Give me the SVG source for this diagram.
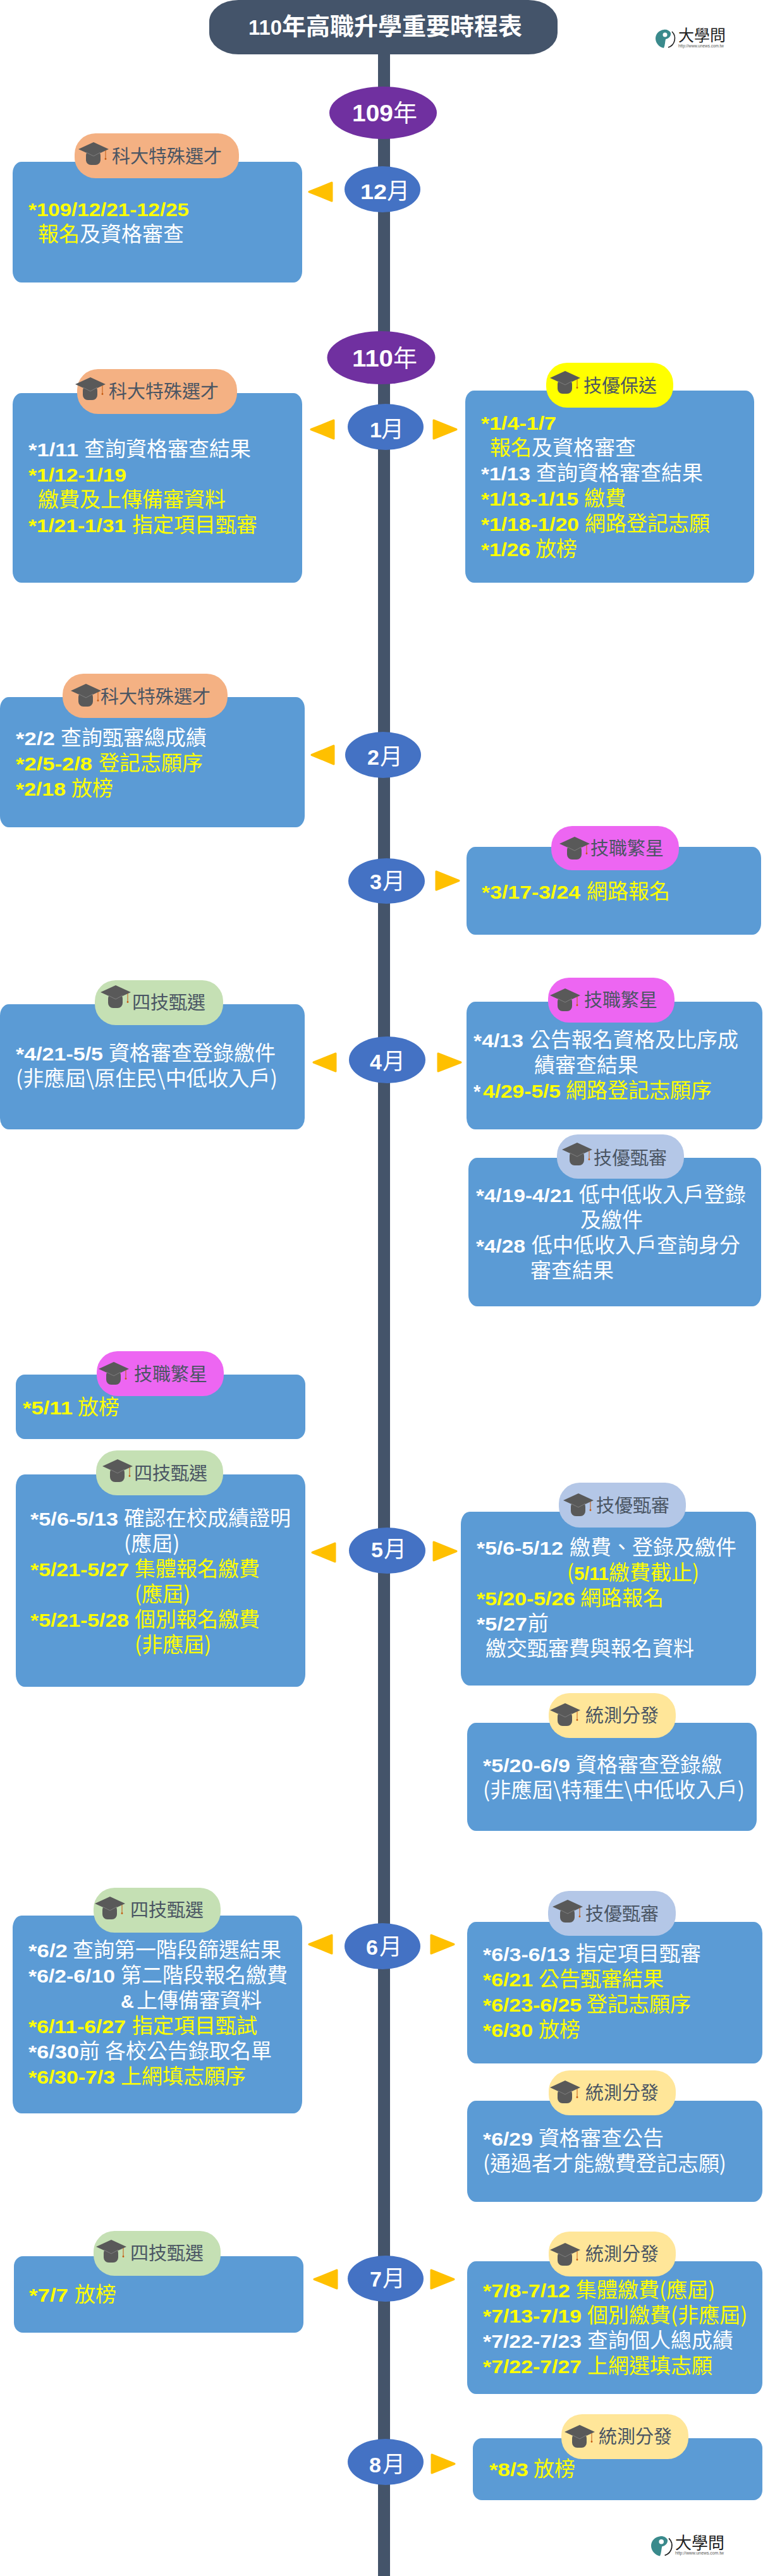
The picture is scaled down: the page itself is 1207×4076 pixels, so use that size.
<svg xmlns="http://www.w3.org/2000/svg" xmlns:xlink="http://www.w3.org/1999/xlink" width="1207" height="4076" viewBox="0 0 1207 4076">
<style>
text{font-family:"Noto Sans CJK TC","Noto Sans CJK SC",sans-serif}
.box{fill:#5B9BD5}
.tri{fill:#FFC000;stroke:#FFC000;stroke-width:3;stroke-linejoin:round}
.yr{fill:#7030A0}.mo{fill:#4472C4}
.p1{fill:#F4B183}.p2{fill:#FFFF00}.p3{fill:#ED66F2}.p4{fill:#C5E0B4}.p5{fill:#B4C7E7}.p6{fill:#FFE699}
.lab{font-size:29px;fill:#4A5563}
.t{font-size:33px;fill:#fff}
.y{fill:#FFFF00}.w{fill:#fff}
.d{font-family:"Liberation Sans",Arial,sans-serif;font-weight:700;font-size:29px}
.mt{font-size:36px;fill:#fff}
.md{font-family:"Liberation Sans",Arial,sans-serif;font-weight:700;font-size:34px}
.yt{font-size:38px;fill:#fff}
.yd{font-family:"Liberation Sans",Arial,sans-serif;font-weight:700;font-size:37px}
.lg{font-size:25px;fill:#222}
.url{font-family:"Liberation Sans",Arial,sans-serif;font-size:6.5px;fill:#555}
</style>
<defs>
<g id="cap">
<rect x="12" y="13" width="23" height="23" rx="8" fill="#595959"/>
<polygon points="24,0 48,11 24,22 0,11" fill="#595959"/>
<polyline points="12,16 24,22 35,16" fill="none" stroke="#7F7F7F" stroke-width="1"/>
<line x1="43" y1="13" x2="43" y2="26" stroke="#C55A11" stroke-width="1"/>
<circle cx="43" cy="26.5" r="1.4" fill="#C55A11"/>
</g>
<g id="mark">
<path d="M13,2C5,3 0,9 0,16C0,23 6,30 13,31C15,27 15,21 16,17C21,16 25,12 24,7C22,3 17,1 13,2Z" fill="#3A8A8C"/>
<circle cx="15" cy="10" r="3.5" fill="#fff"/>
<path d="M26,5A15,15 0 0 1 20,30" fill="none" stroke="#222" stroke-width="1.6"/>
</g>
</defs>
<rect width="1207" height="4076" fill="#fff"/>

<g id="connectors">
<rect x="598" y="80" width="19" height="3996" fill="#44546A"/>
<polygon class="tri" points="489,303.500 525,289 525,318"/>
<polygon class="tri" points="492,679.500 528,665 528,694"/>
<polygon class="tri" points="722,679.500 686,665 686,694"/>
<polygon class="tri" points="493,1194.500 528,1180 528,1209"/>
<polygon class="tri" points="726,1393.500 690,1379 690,1408"/>
<polygon class="tri" points="496,1681 531,1667 531,1695"/>
<polygon class="tri" points="729,1681 693,1667 693,1695"/>
<polygon class="tri" points="494,2456.500 530,2442 530,2471"/>
<polygon class="tri" points="722,2454.500 686,2440 686,2469"/>
<polygon class="tri" points="489,3076.500 525,3062 525,3091"/>
<polygon class="tri" points="718,3076.500 682,3062 682,3091"/>
<polygon class="tri" points="497,3606.500 533,3592 533,3621"/>
<polygon class="tri" points="718,3606.500 682,3592 682,3621"/>
<polygon class="tri" points="719,3898.500 683,3884 683,3913"/>
</g>

<g id="title">
<rect x="331" y="0" width="551" height="86" rx="46" ry="34" fill="#44546A"/>
<text class="yt" y="55" font-weight="700"><tspan class="md" style="font-size:33px" x="393" textLength="53" lengthAdjust="spacingAndGlyphs">110</tspan><tspan x="446">年高職升學重要時程表</tspan></text>
</g>

<g id="logo-top">
<use href="#mark" transform="translate(1037,45)"/>
<text class="lg" x="1073" y="65">大學問</text>
<text class="url" x="1073" y="75" textLength="72" lengthAdjust="spacingAndGlyphs">http://www.unews.com.tw</text>
</g>

<g id="year-109">
<ellipse class="yr" cx="606" cy="178.500" rx="85" ry="41.500"/>
<text class="yt" y="192"><tspan class="yd" x="557" textLength="65" lengthAdjust="spacingAndGlyphs">109</tspan><tspan x="622">年</tspan></text>
</g>
<g id="month-12">
<ellipse class="mo" cx="605" cy="299.500" rx="60" ry="36.500"/>
<text class="mt" y="315"><tspan class="md" x="570" textLength="42" lengthAdjust="spacingAndGlyphs">12</tspan><tspan x="612">月</tspan></text>
</g>
<g id="card-12-left">
<rect class="box" x="20" y="256" width="458" height="191" rx="14" ry="18"/>
<rect class="p1" x="118" y="211" width="260" height="71" rx="33"/>
<use href="#cap" x="124" y="225"/>
<text class="lab" x="177" y="258">科大特殊選才</text>
<text class="t" y="342"><tspan class="d y" x="45" textLength="254" lengthAdjust="spacingAndGlyphs">*109/12/21-12/25</tspan></text>
<text class="t" y="382"><tspan class="y" x="60">報名</tspan><tspan>及資格審查</tspan></text>
</g>

<g id="year-110">
<ellipse class="yr" cx="603" cy="566" rx="85.500" ry="42"/>
<text class="yt" y="580"><tspan class="yd" x="557" textLength="65" lengthAdjust="spacingAndGlyphs">110</tspan><tspan x="622">年</tspan></text>
</g>
<g id="month-1">
<ellipse class="mo" cx="610" cy="675.500" rx="60" ry="36.500"/>
<text class="mt" y="692"><tspan class="md" x="585">1</tspan><tspan x="603">月</tspan></text>
</g>
<g id="card-1-left">
<rect class="box" x="20" y="622" width="458" height="300" rx="14" ry="18"/>
<rect class="p1" x="122" y="584" width="253" height="71" rx="33"/>
<use href="#cap" x="119" y="597"/>
<text class="lab" x="172" y="630">科大特殊選才</text>
<text class="t" y="722"><tspan class="d" x="45" textLength="79" lengthAdjust="spacingAndGlyphs">*1/11</tspan><tspan x="133">查詢資格審查結果</tspan></text>
<text class="t y" y="762"><tspan class="d" x="45" textLength="155" lengthAdjust="spacingAndGlyphs">*1/12-1/19</tspan></text>
<text class="t y" x="60" y="802">繳費及上傳備審資料</text>
<text class="t y" y="842"><tspan class="d" x="45" textLength="154" lengthAdjust="spacingAndGlyphs">*1/21-1/31</tspan><tspan x="209">指定項目甄審</tspan></text>
</g>
<g id="card-1-right">
<rect class="box" x="736" y="618" width="457" height="304" rx="14" ry="18"/>
<rect class="p2" x="864" y="574" width="201" height="71" rx="33"/>
<use href="#cap" x="870" y="587"/>
<text class="lab" x="923" y="621">技優保送</text>
<text class="t y" y="680"><tspan class="d" x="761" textLength="119" lengthAdjust="spacingAndGlyphs">*1/4-1/7</tspan></text>
<text class="t" y="720"><tspan class="y" x="775">報名</tspan><tspan>及資格審查</tspan></text>
<text class="t" y="760"><tspan class="d" x="761" textLength="78" lengthAdjust="spacingAndGlyphs">*1/13</tspan><tspan x="848">查詢資格審查結果</tspan></text>
<text class="t y" y="800"><tspan class="d" x="761" textLength="154" lengthAdjust="spacingAndGlyphs">*1/13-1/15</tspan><tspan x="924">繳費</tspan></text>
<text class="t y" y="840"><tspan class="d" x="761" textLength="155" lengthAdjust="spacingAndGlyphs">*1/18-1/20</tspan><tspan x="925">網路登記志願</tspan></text>
<text class="t y" y="880"><tspan class="d" x="761" textLength="78" lengthAdjust="spacingAndGlyphs">*1/26</tspan><tspan x="847">放榜</tspan></text>
</g>

<g id="month-2">
<ellipse class="mo" cx="606" cy="1194.500" rx="60" ry="36.500"/>
<text class="mt" y="1210"><tspan class="md" x="581">2</tspan><tspan x="601">月</tspan></text>
</g>
<g id="card-2-left">
<rect class="box" x="0" y="1103" width="482" height="206" rx="14" ry="18"/>
<rect class="p1" x="99" y="1066" width="261" height="70" rx="33"/>
<use href="#cap" x="112" y="1082"/>
<text class="lab" x="159" y="1113">科大特殊選才</text>
<text class="t" y="1179"><tspan class="d" x="25" textLength="62" lengthAdjust="spacingAndGlyphs">*2/2</tspan><tspan x="96">查詢甄審總成績</tspan></text>
<text class="t y" y="1219"><tspan class="d" x="25" textLength="121" lengthAdjust="spacingAndGlyphs">*2/5-2/8</tspan><tspan x="156">登記志願序</tspan></text>
<text class="t y" y="1259"><tspan class="d" x="25" textLength="79" lengthAdjust="spacingAndGlyphs">*2/18</tspan><tspan x="113">放榜</tspan></text>
</g>

<g id="month-3">
<ellipse class="mo" cx="611.500" cy="1394" rx="60.500" ry="36"/>
<text class="mt" y="1407"><tspan class="md" x="585">3</tspan><tspan x="605">月</tspan></text>
</g>
<g id="card-3-right">
<rect class="box" x="738" y="1340" width="466" height="139" rx="14" ry="18"/>
<rect class="p3" x="872" y="1307" width="202" height="70" rx="33"/>
<use href="#cap" x="885" y="1324"/>
<text class="lab" x="934" y="1353">技職繁星</text>
<text class="t y" y="1422"><tspan class="d" x="762" textLength="156" lengthAdjust="spacingAndGlyphs">*3/17-3/24</tspan><tspan x="928">網路報名</tspan></text>
</g>

<g id="month-4">
<ellipse class="mo" cx="612.500" cy="1677" rx="60.500" ry="37"/>
<text class="mt" y="1692"><tspan class="md" x="585">4</tspan><tspan x="605">月</tspan></text>
</g>
<g id="card-4-left">
<rect class="box" x="0" y="1589" width="482" height="198" rx="14" ry="18"/>
<rect class="p4" x="150" y="1551" width="203" height="71" rx="33"/>
<use href="#cap" x="159" y="1559"/>
<text class="lab" x="209" y="1597">四技甄選</text>
<text class="t" y="1678"><tspan class="d" x="25" textLength="138" lengthAdjust="spacingAndGlyphs">*4/21-5/5</tspan><tspan x="172">資格審查登錄繳件</tspan></text>
<text class="t" x="25" y="1718" textLength="414" lengthAdjust="spacingAndGlyphs">(非應屆\原住民\中低收入戶)</text>
</g>
<g id="card-4-right-a">
<rect class="box" x="738" y="1585" width="468" height="202" rx="14" ry="18"/>
<rect class="p3" x="867" y="1547" width="200" height="71" rx="33"/>
<use href="#cap" x="870" y="1564"/>
<text class="lab" x="924" y="1593">技職繁星</text>
<text class="t" y="1657"><tspan class="d" x="749" textLength="79" lengthAdjust="spacingAndGlyphs">*4/13</tspan><tspan x="838">公告報名資格及比序成</tspan></text>
<text class="t" x="845" y="1697">績審查結果</text>
<text class="t y" y="1737"><tspan class="d w" x="749">*</tspan><tspan class="d" x="764" textLength="123" lengthAdjust="spacingAndGlyphs">4/29-5/5</tspan><tspan x="895">網路登記志願序</tspan></text>
</g>
<g id="card-4-right-b">
<rect class="box" x="741" y="1832" width="463" height="235" rx="14" ry="18"/>
<rect class="p5" x="881" y="1795" width="201" height="70" rx="33"/>
<use href="#cap" x="889" y="1808"/>
<text class="lab" x="939" y="1843">技優甄審</text>
<text class="t" y="1902"><tspan class="d" x="753" textLength="154" lengthAdjust="spacingAndGlyphs">*4/19-4/21</tspan><tspan x="916">低中低收入戶登錄</tspan></text>
<text class="t" x="918" y="1942">及繳件</text>
<text class="t" y="1982"><tspan class="d" x="753" textLength="78" lengthAdjust="spacingAndGlyphs">*4/28</tspan><tspan x="841">低中低收入戶查詢身分</tspan></text>
<text class="t" x="839" y="2022">審查結果</text>
</g>

<g id="month-5">
<ellipse class="mo" cx="612.500" cy="2453.500" rx="60.500" ry="36.500"/>
<text class="mt" y="2464"><tspan class="md" x="587">5</tspan><tspan x="607">月</tspan></text>
</g>
<g id="card-5-left-a">
<rect class="box" x="25" y="2175" width="458" height="102" rx="14" ry="16"/>
<rect class="p3" x="153" y="2138" width="201" height="71" rx="33"/>
<use href="#cap" x="156" y="2155"/>
<text class="lab" x="212" y="2185">技職繁星</text>
<text class="t y" y="2238"><tspan class="d" x="36" textLength="79" lengthAdjust="spacingAndGlyphs">*5/11</tspan><tspan x="123">放榜</tspan></text>
</g>
<g id="card-5-left-b">
<rect class="box" x="25" y="2333" width="458" height="336" rx="14" ry="20"/>
<rect class="p4" x="152" y="2295" width="201" height="71" rx="33"/>
<use href="#cap" x="162" y="2309"/>
<text class="lab" x="212" y="2342">四技甄選</text>
<text class="t" y="2414"><tspan class="d" x="48" textLength="139" lengthAdjust="spacingAndGlyphs">*5/6-5/13</tspan><tspan x="196">確認在校成績證明</tspan></text>
<text class="t" x="196" y="2454">(應屆)</text>
<text class="t y" y="2494"><tspan class="d" x="48" textLength="156" lengthAdjust="spacingAndGlyphs">*5/21-5/27</tspan><tspan x="213">集體報名繳費</tspan></text>
<text class="t y" x="213" y="2534">(應屆)</text>
<text class="t y" y="2574"><tspan class="d" x="48" textLength="156" lengthAdjust="spacingAndGlyphs">*5/21-5/28</tspan><tspan x="213">個別報名繳費</tspan></text>
<text class="t y" x="213" y="2614">(非應屆)</text>
</g>
<g id="card-5-right-a">
<rect class="box" x="729" y="2392" width="467" height="275" rx="14" ry="20"/>
<rect class="p5" x="884" y="2346" width="201" height="71" rx="33"/>
<use href="#cap" x="891" y="2363"/>
<text class="lab" x="943" y="2393">技優甄審</text>
<text class="t" y="2460"><tspan class="d" x="754" textLength="137" lengthAdjust="spacingAndGlyphs">*5/6-5/12</tspan><tspan x="901">繳費、登錄及繳件</tspan></text>
<text class="t y" y="2500"><tspan x="897">(</tspan><tspan class="d">5/11</tspan><tspan>繳費截止)</tspan></text>
<text class="t y" y="2540"><tspan class="d" x="754" textLength="156" lengthAdjust="spacingAndGlyphs">*5/20-5/26</tspan><tspan x="918">網路報名</tspan></text>
<text class="t" y="2580"><tspan class="d" x="754" textLength="80" lengthAdjust="spacingAndGlyphs">*5/27</tspan><tspan x="835">前</tspan></text>
<text class="t" x="768" y="2620">繳交甄審費與報名資料</text>
</g>
<g id="card-5-right-b">
<rect class="box" x="739" y="2726" width="458" height="171" rx="14" ry="18"/>
<rect class="p6" x="868" y="2679" width="201" height="71" rx="33"/>
<use href="#cap" x="870" y="2695"/>
<text class="lab" x="926" y="2725">統測分發</text>
<text class="t" y="2804"><tspan class="d" x="764" textLength="138" lengthAdjust="spacingAndGlyphs">*5/20-6/9</tspan><tspan x="911">資格審查登錄繳</tspan></text>
<text class="t" x="764" y="2844" textLength="414" lengthAdjust="spacingAndGlyphs">(非應屆\特種生\中低收入戶)</text>
</g>

<g id="month-6">
<ellipse class="mo" cx="605" cy="3079.500" rx="60" ry="36.500"/>
<text class="mt" y="3093"><tspan class="md" x="579">6</tspan><tspan x="600">月</tspan></text>
</g>
<g id="card-6-left">
<rect class="box" x="20" y="3031" width="458" height="313" rx="14" ry="20"/>
<rect class="p4" x="148" y="2987" width="201" height="71" rx="33"/>
<use href="#cap" x="150" y="3001"/>
<text class="lab" x="206" y="3033">四技甄選</text>
<text class="t" y="3097"><tspan class="d" x="45" textLength="62" lengthAdjust="spacingAndGlyphs">*6/2</tspan><tspan x="115">查詢第一階段篩選結果</tspan></text>
<text class="t" y="3137"><tspan class="d" x="45" textLength="137" lengthAdjust="spacingAndGlyphs">*6/2-6/10</tspan><tspan x="191">第二階段報名繳費</tspan></text>
<text class="t" y="3177"><tspan class="d" x="191">&amp;</tspan><tspan x="216">上傳備審資料</tspan></text>
<text class="t y" y="3217"><tspan class="d" x="45" textLength="154" lengthAdjust="spacingAndGlyphs">*6/11-6/27</tspan><tspan x="209">指定項目甄試</tspan></text>
<text class="t" y="3257"><tspan class="d" x="45" textLength="80" lengthAdjust="spacingAndGlyphs">*6/30</tspan><tspan x="125">前</tspan><tspan x="166">各校公告錄取名單</tspan></text>
<text class="t y" y="3297"><tspan class="d" x="45" textLength="137" lengthAdjust="spacingAndGlyphs">*6/30-7/3</tspan><tspan x="191">上網填志願序</tspan></text>
</g>
<g id="card-6-right-a">
<rect class="box" x="739" y="3041" width="467" height="224" rx="14" ry="18"/>
<rect class="p5" x="867" y="2992" width="202" height="71" rx="33"/>
<use href="#cap" x="874" y="3006"/>
<text class="lab" x="926" y="3039">技優甄審</text>
<text class="t" y="3103"><tspan class="d" x="764" textLength="138" lengthAdjust="spacingAndGlyphs">*6/3-6/13</tspan><tspan x="911">指定項目甄審</tspan></text>
<text class="t y" y="3143"><tspan class="d" x="764" textLength="79" lengthAdjust="spacingAndGlyphs">*6/21</tspan><tspan x="852">公告甄審結果</tspan></text>
<text class="t y" y="3183"><tspan class="d" x="764" textLength="156" lengthAdjust="spacingAndGlyphs">*6/23-6/25</tspan><tspan x="928">登記志願序</tspan></text>
<text class="t y" y="3223"><tspan class="d" x="764" textLength="79" lengthAdjust="spacingAndGlyphs">*6/30</tspan><tspan x="852">放榜</tspan></text>
</g>
<g id="card-6-right-b">
<rect class="box" x="739" y="3324" width="467" height="160" rx="14" ry="18"/>
<rect class="p6" x="868" y="3276" width="201" height="71" rx="33"/>
<use href="#cap" x="870" y="3292"/>
<text class="lab" x="926" y="3322">統測分發</text>
<text class="t" y="3395"><tspan class="d" x="764" textLength="79" lengthAdjust="spacingAndGlyphs">*6/29</tspan><tspan x="852">資格審查公告</tspan></text>
<text class="t" x="764" y="3435" textLength="385" lengthAdjust="spacingAndGlyphs">(通過者才能繳費登記志願)</text>
</g>

<g id="month-7">
<ellipse class="mo" cx="610" cy="3605.500" rx="60" ry="36.500"/>
<text class="mt" y="3618"><tspan class="md" x="585">7</tspan><tspan x="605">月</tspan></text>
</g>
<g id="card-7-left">
<rect class="box" x="22" y="3570" width="458" height="121" rx="14" ry="16"/>
<rect class="p4" x="148" y="3530" width="201" height="71" rx="33"/>
<use href="#cap" x="152" y="3544"/>
<text class="lab" x="206" y="3576">四技甄選</text>
<text class="t y" y="3642"><tspan class="d" x="46" textLength="62" lengthAdjust="spacingAndGlyphs">*7/7</tspan><tspan x="118">放榜</tspan></text>
</g>
<g id="card-7-right">
<rect class="box" x="739" y="3578" width="467" height="210" rx="14" ry="18"/>
<rect class="p6" x="868" y="3531" width="201" height="71" rx="33"/>
<use href="#cap" x="870" y="3549"/>
<text class="lab" x="926" y="3577">統測分發</text>
<text class="t y" y="3635"><tspan class="d" x="764" textLength="138" lengthAdjust="spacingAndGlyphs">*7/8-7/12</tspan><tspan x="911">集體繳費(應屆)</tspan></text>
<text class="t y" y="3675"><tspan class="d" x="764" textLength="156" lengthAdjust="spacingAndGlyphs">*7/13-7/19</tspan><tspan x="929">個別繳費(非應屆)</tspan></text>
<text class="t" y="3715"><tspan class="d" x="764" textLength="156" lengthAdjust="spacingAndGlyphs">*7/22-7/23</tspan><tspan x="929">查詢個人總成績</tspan></text>
<text class="t y" y="3755"><tspan class="d" x="764" textLength="156" lengthAdjust="spacingAndGlyphs">*7/22-7/27</tspan><tspan x="929">上網選填志願</tspan></text>
</g>

<g id="month-8">
<ellipse class="mo" cx="610" cy="3895.500" rx="60" ry="36.500"/>
<text class="mt" y="3912"><tspan class="md" x="584">8</tspan><tspan x="605">月</tspan></text>
</g>
<g id="card-8-right">
<rect class="box" x="748" y="3858" width="458" height="98" rx="14" ry="16"/>
<rect class="p6" x="888" y="3820" width="201" height="71" rx="33"/>
<use href="#cap" x="893" y="3837"/>
<text class="lab" x="947" y="3866">統測分發</text>
<text class="t y" y="3918"><tspan class="d" x="774" textLength="62" lengthAdjust="spacingAndGlyphs">*8/3</tspan><tspan x="844">放榜</tspan></text>
</g>

<g id="logo-bottom">
<use href="#mark" transform="translate(1030,4011) scale(1.08)"/>
<text class="lg" style="font-size:26px" x="1068" y="4033">大學問</text>
<text class="url" x="1068" y="4042" textLength="77" lengthAdjust="spacingAndGlyphs">http://www.unews.com.tw</text>
</g>
</svg>
